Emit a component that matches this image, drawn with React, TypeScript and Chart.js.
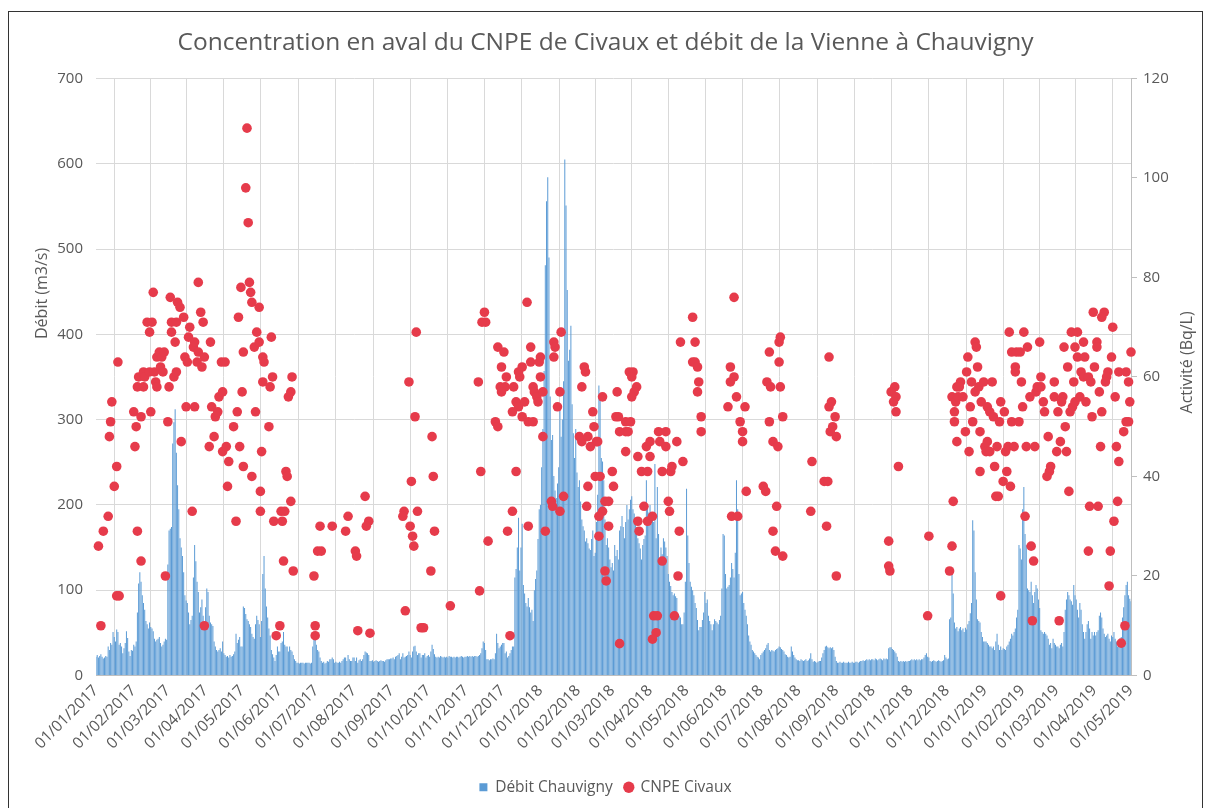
import React, { useEffect, useRef } from "react";
import { Chart, registerables } from "chart.js";

Chart.register(...registerables);

// ---- Débit de la Vienne à Chauvigny (m3/s), valeurs journalières par mois ----
const debit2017_01 = [22, 24, 21, 23, 25, 22, 20, 21, 23, 22, 34, 30, 38, 36, 51, 45, 40, 54, 51, 36, 38, 34, 26, 32, 38, 52, 44, 28, 23, 30, 29];
const debit2017_02 = [36, 34, 40, 74, 108, 121, 110, 94, 85, 77, 64, 60, 55, 62, 57, 55, 52, 43, 40, 42, 43, 45, 38, 34, 36, 40, 43, 42];
const debit2017_03 = [130, 170, 172, 174, 272, 297, 312, 261, 223, 195, 161, 150, 140, 121, 94, 88, 85, 74, 60, 65, 70, 115, 153, 134, 110, 98, 74, 80, 89, 70, 60];
const debit2017_04 = [80, 102, 98, 70, 62, 60, 58, 40, 34, 30, 28, 30, 32, 28, 40, 26, 24, 22, 23, 21, 24, 22, 23, 25, 28, 49, 38, 42, 45, 34];
const debit2017_05 = [34, 81, 79, 72, 66, 64, 60, 57, 49, 45, 43, 60, 70, 65, 60, 45, 64, 119, 140, 102, 81, 68, 55, 47, 30, 25, 21, 17, 24, 34, 28];
const debit2017_06 = [28, 38, 40, 51, 36, 34, 34, 28, 34, 30, 28, 24, 19, 17, 15, 15, 14, 15, 15, 15, 14, 15, 15, 15, 15, 14, 15, 34, 47, 42];
const debit2017_07 = [36, 30, 28, 21, 17, 15, 16, 14, 15, 17, 16, 19, 19, 21, 19, 15, 16, 15, 15, 16, 15, 17, 19, 21, 21, 17, 24, 19, 17, 17, 21];
const debit2017_08 = [21, 17, 21, 15, 18, 19, 17, 19, 24, 28, 27, 26, 24, 17, 17, 18, 16, 17, 18, 17, 16, 17, 18, 17, 17, 16, 18, 19, 19, 19, 20];
const debit2017_09 = [20, 21, 19, 22, 23, 24, 26, 19, 22, 26, 21, 22, 23, 24, 28, 24, 21, 28, 34, 35, 28, 24, 26, 26, 21, 24, 24, 26, 21, 23];
const debit2017_10 = [24, 22, 28, 36, 31, 25, 22, 21, 22, 21, 23, 22, 21, 22, 21, 22, 21, 23, 22, 22, 21, 22, 21, 22, 22, 21, 22, 23, 22, 21, 22];
const debit2017_11 = [22, 23, 22, 23, 22, 23, 22, 23, 23, 22, 23, 24, 26, 32, 40, 38, 30, 19, 19, 18, 19, 19, 20, 19, 26, 49, 38, 32, 34, 36];
const debit2017_12 = [38, 38, 26, 28, 21, 23, 26, 30, 34, 34, 115, 125, 150, 185, 123, 150, 178, 106, 96, 85, 81, 91, 80, 74, 77, 64, 100, 113, 123, 160, 195];
const debit2018_01 = [200, 244, 289, 357, 481, 556, 584, 490, 327, 276, 282, 234, 217, 208, 225, 244, 310, 280, 300, 345, 605, 551, 452, 369, 382, 410, 318, 284, 255, 289, 238];
const debit2018_02 = [221, 229, 204, 183, 175, 170, 157, 161, 155, 149, 147, 160, 170, 140, 144, 180, 212, 340, 331, 255, 251, 229, 183, 153, 161, 150, 136, 127];
const debit2018_03 = [132, 123, 153, 140, 147, 136, 170, 175, 187, 174, 161, 180, 200, 183, 195, 206, 210, 195, 190, 183, 174, 161, 155, 149, 136, 153, 160, 164, 229, 200, 191];
const debit2018_04 = [200, 178, 187, 180, 248, 161, 221, 166, 134, 150, 142, 161, 157, 150, 140, 119, 110, 105, 98, 94, 96, 93, 91, 72, 70, 68, 60, 60, 74, 110];
const debit2018_05 = [219, 164, 132, 110, 104, 100, 94, 85, 79, 65, 53, 57, 57, 65, 74, 98, 85, 89, 70, 64, 60, 53, 60, 66, 64, 62, 60, 65, 70, 102, 166];
const debit2018_06 = [164, 119, 102, 104, 106, 115, 132, 125, 115, 144, 229, 195, 119, 94, 96, 98, 85, 77, 70, 60, 47, 40, 36, 30, 28, 26, 24, 22, 21, 19];
const debit2018_07 = [24, 26, 28, 30, 32, 36, 38, 30, 28, 30, 29, 28, 30, 31, 32, 34, 33, 31, 30, 28, 25, 24, 22, 21, 22, 34, 28, 24, 21, 19, 18];
const debit2018_08 = [18, 17, 19, 18, 17, 18, 19, 17, 18, 20, 26, 19, 16, 17, 16, 15, 16, 17, 17, 21, 26, 30, 34, 35, 33, 32, 33, 32, 33, 30, 22];
const debit2018_09 = [17, 15, 15, 16, 15, 15, 16, 15, 15, 15, 16, 15, 15, 16, 15, 15, 16, 16, 15, 16, 17, 17, 18, 17, 18, 19, 18, 19, 18, 19];
const debit2018_10 = [19, 18, 20, 19, 18, 19, 20, 19, 18, 20, 19, 20, 19, 32, 33, 33, 31, 30, 28, 26, 22, 17, 16, 17, 16, 17, 16, 17, 16, 17, 17];
const debit2018_11 = [18, 19, 18, 19, 18, 19, 18, 19, 18, 19, 19, 21, 24, 26, 22, 21, 17, 16, 17, 18, 17, 16, 17, 18, 17, 16, 17, 18, 24, 21];
const debit2018_12 = [19, 20, 66, 68, 120, 96, 62, 55, 57, 52, 55, 57, 53, 55, 51, 56, 54, 60, 64, 73, 85, 182, 170, 121, 89, 66, 64, 62, 51, 45, 40];
const debit2019_01 = [40, 40, 38, 36, 34, 34, 32, 34, 30, 40, 49, 36, 30, 34, 30, 32, 31, 30, 34, 36, 40, 43, 49, 47, 51, 55, 68, 77, 153, 149, 136];
const debit2019_02 = [195, 221, 166, 153, 102, 100, 98, 110, 94, 85, 98, 106, 102, 89, 79, 53, 51, 49, 51, 49, 47, 43, 36, 38, 32, 43, 38, 36];
const debit2019_03 = [34, 34, 32, 36, 38, 34, 51, 77, 89, 98, 94, 89, 87, 83, 106, 94, 89, 77, 68, 85, 77, 60, 51, 43, 51, 60, 64, 55, 43, 51, 47];
const debit2019_04 = [51, 47, 51, 53, 70, 74, 68, 55, 49, 45, 47, 49, 43, 40, 47, 45, 51, 43, 40, 34, 38, 43, 45, 68, 80, 94, 106, 110, 94, 90];
const debit2019_05 = [87];

// ---- Étiquettes de l'axe des dates (premiers de mois) ----
const monthTickLabels = [
  "01/01/2017", "01/02/2017", "01/03/2017", "01/04/2017", "01/05/2017", "01/06/2017",
  "01/07/2017", "01/08/2017", "01/09/2017", "01/10/2017", "01/11/2017", "01/12/2017",
  "01/01/2018", "01/02/2018", "01/03/2018", "01/04/2018", "01/05/2018", "01/06/2018",
  "01/07/2018", "01/08/2018", "01/09/2018", "01/10/2018", "01/11/2018", "01/12/2018",
  "01/01/2019", "01/02/2019", "01/03/2019", "01/04/2019", "01/05/2019",
];

// ---- CNPE Civaux, activité (Bq/L) : [jour depuis le 01/01/2017, valeur] ----
const cnpe2017a: [number, number][] = [
  [2, 26], [4, 10], [6, 29], [10, 32], [11, 48], [12, 51], [13, 55], [15, 38], [17, 42], [17, 16], [19, 16], [18, 63],
  [31, 53], [32, 46], [33, 50], [34, 58], [34, 29], [35, 60], [37, 52], [37, 23], [39, 61], [39, 58], [40, 60], [42, 71],
  [44, 69], [44, 61], [45, 53], [46, 71], [47, 77], [48, 61], [49, 59], [50, 64], [50, 58], [52, 65], [53, 62], [54, 64],
  [55, 61], [56, 65], [57, 20], [59, 51], [60, 58], [61, 76], [62, 71], [62, 69], [64, 60], [65, 67], [66, 71], [66, 61],
  [67, 75], [69, 74], [70, 47], [72, 72], [73, 64], [74, 54], [75, 63], [76, 68], [77, 70], [79, 33], [80, 66], [81, 67],
  [81, 54], [83, 63], [84, 79], [84, 65], [86, 73], [87, 62], [88, 71], [89, 64], [89, 10], [93, 46], [94, 67], [95, 54],
  [97, 48], [98, 52], [100, 53], [101, 56], [103, 63], [104, 57], [104, 45], [106, 63], [107, 46], [108, 38], [109, 43],
  [113, 50], [115, 31], [116, 53], [117, 72], [118, 46], [119, 78], [120, 57], [121, 65], [121, 42], [123, 98], [124, 110],
  [125, 91], [126, 79], [127, 77], [128, 75], [128, 40], [130, 66], [131, 53], [132, 69], [134, 74], [134, 67], [135, 37],
  [135, 33], [136, 45], [137, 64], [137, 59], [138, 63],
];
const cnpe2017b: [number, number][] = [
  [144, 68], [143, 58], [145, 60], [161, 60], [160, 57], [158, 56], [142, 50], [156, 41], [157, 40], [160, 35], [152, 33],
  [155, 33], [146, 31], [153, 31], [154, 23], [162, 21], [151, 10], [148, 8], [184, 30], [194, 30], [182, 25], [185, 25],
  [179, 20], [180, 10], [180, 8], [207, 32], [205, 29], [221, 36], [224, 31], [222, 30], [213, 25], [214, 24], [215, 9],
  [225, 8.5], [263, 69], [257, 59], [262, 52], [259, 39], [253, 33], [252, 32], [264, 33], [258, 30], [260, 28], [261, 26],
  [254, 13], [267, 9.6], [269, 9.6], [276, 48], [277, 40], [278, 29], [275, 21],
];
const cnpe2017c: [number, number][] = [
  [291, 14], [314, 59], [316, 41], [315, 17], [322, 27], [319, 73], [320, 71], [317, 71], [330, 66], [335, 65], [333, 62],
  [337, 60], [332, 58], [336, 58], [343, 58], [333, 57], [328, 51], [330, 50], [345, 55], [347, 54], [342, 53], [352, 55],
  [345, 41], [342, 33], [338, 29], [340, 8], [354, 75], [357, 66], [350, 62], [348, 60], [347, 61], [357, 63], [364, 63],
  [365, 64], [365, 60], [359, 58], [360, 57], [362, 56], [363, 55], [350, 52], [355, 51], [359, 51], [367, 57], [367, 48],
  [355, 30], [369, 29], [374, 35], [375, 34], [381, 33], [384, 36], [376, 67], [377, 66], [376, 64], [382, 69], [381, 57],
  [379, 54], [401, 62], [402, 61], [399, 58], [416, 56], [408, 53], [409, 50], [397, 48], [399, 47], [404, 48], [406, 46],
  [411, 47], [412, 47], [410, 40], [414, 40], [404, 38], [403, 34], [418, 35], [421, 35], [416, 33], [413, 32], [413, 28],
  [421, 30], [418, 21], [419, 19],
];
const cnpe2018a: [number, number][] = [
  [424, 41], [425, 38], [428, 57], [427, 52], [429, 52], [430, 49], [435, 49], [437, 49], [435, 51], [439, 51], [438, 61],
  [441, 61], [440, 60], [444, 58], [442, 57], [440, 56], [435, 45], [445, 44], [448, 41], [453, 41], [452, 46], [455, 47],
  [455, 44], [462, 49], [468, 49], [463, 47], [468, 46], [477, 47], [482, 43], [465, 41], [472, 41], [473, 42], [450, 34],
  [445, 31], [446, 29], [453, 31], [457, 32], [470, 35], [471, 33], [479, 29], [465, 23], [478, 20], [458, 12], [461, 12],
  [475, 12], [460, 8.6], [457, 7.3], [430, 6.4], [480, 67], [492, 67], [490, 72], [490, 63], [492, 63], [494, 62], [495, 59],
  [494, 57], [497, 52], [497, 49], [524, 76], [521, 62], [524, 60], [521, 59], [526, 56], [519, 54], [533, 54], [529, 51],
  [531, 49], [531, 47], [534, 37], [522, 32], [527, 32], [553, 65], [551, 59], [554, 58], [561, 67], [562, 68], [561, 63],
  [562, 58], [553, 51], [564, 52], [556, 47], [560, 46], [548, 38], [550, 37], [559, 34], [556, 29], [558, 25], [564, 24],
];
const cnpe2018b: [number, number][] = [
  [602, 64], [604, 55], [602, 54], [607, 52], [605, 50], [603, 49], [608, 48], [588, 43], [598, 39], [601, 39], [587, 33],
  [600, 30], [608, 20], [656, 58], [653, 57], [657, 56], [655, 55], [657, 53], [659, 42], [651, 27], [651, 22], [652, 21],
  [684, 28], [683, 12],
];
const cnpe2018c: [number, number][] = [
  [703, 56], [706, 55], [705, 53], [705, 51], [707, 47], [704, 35], [703, 26], [701, 21], [707, 58], [722, 67], [723, 66],
  [716, 64], [724, 62], [715, 61], [710, 59], [709, 58], [719, 59], [708, 56], [712, 56], [718, 54], [722, 57], [725, 58],
  [720, 51], [714, 49], [726, 49], [717, 45], [726, 41], [743, 16], [729, 59], [736, 59], [727, 55], [732, 54], [734, 53],
  [737, 52], [742, 51], [743, 55], [746, 53], [732, 47], [730, 46], [731, 45], [734, 45], [740, 46], [747, 45], [749, 46],
  [738, 42], [748, 41], [745, 39], [751, 38], [739, 36], [741, 36], [752, 51], [758, 51], [754, 46], [750, 69], [752, 65],
  [756, 65], [759, 65], [755, 62], [755, 61], [760, 59], [761, 54], [763, 32], [768, 26], [770, 23], [769, 11],
];
const cnpe2019: [number, number][] = [
  [762, 69], [765, 66], [775, 67], [764, 46], [771, 46], [767, 56], [772, 57], [776, 58], [776, 60], [773, 58], [778, 55],
  [779, 53], [782, 48], [787, 59], [787, 56], [790, 53], [784, 42], [783, 41], [781, 40], [792, 47], [789, 45], [796, 50],
  [795, 66], [798, 62], [794, 56], [793, 55], [797, 45], [799, 37], [791, 11], [801, 69], [806, 69], [804, 66], [811, 67],
  [806, 64], [812, 64], [803, 59], [809, 61], [811, 60], [815, 60], [817, 59], [800, 53], [802, 54], [804, 55], [808, 56],
  [813, 55], [818, 52], [816, 34], [815, 25], [819, 73], [828, 73], [826, 72], [822, 67], [822, 66], [820, 62], [835, 70],
  [834, 64], [831, 61], [830, 60], [829, 59], [824, 57], [826, 53], [837, 56], [840, 61], [846, 61], [848, 59], [850, 65],
  [849, 55], [846, 51], [848, 51], [844, 49], [825, 46], [838, 46], [840, 43], [839, 35], [836, 31], [833, 25], [832, 18],
  [845, 10], [842, 6.5], [823, 34],
];

const debitMonths = [
  debit2017_01, debit2017_02, debit2017_03, debit2017_04, debit2017_05, debit2017_06,
  debit2017_07, debit2017_08, debit2017_09, debit2017_10, debit2017_11, debit2017_12,
  debit2018_01, debit2018_02, debit2018_03, debit2018_04, debit2018_05, debit2018_06,
  debit2018_07, debit2018_08, debit2018_09, debit2018_10, debit2018_11, debit2018_12,
  debit2019_01, debit2019_02, debit2019_03, debit2019_04, debit2019_05,
];
const cnpeGroups = [cnpe2017a, cnpe2017b, cnpe2017c, cnpe2018a, cnpe2018b, cnpe2018c, cnpe2019];

const FONT = '"Open Sans", sans-serif';
const TEXT = "#595959";
const GRID = "#d9d9d9";
const AXIS = "#bfbfbf";
const BLUE = "#5B9BD5";
const RED = "#E63B4B";

function dayOf(label: string): number {
  const [d, m, y] = label.split("/").map(Number);
  return Math.round((Date.UTC(y, m - 1, d) - Date.UTC(2017, 0, 1)) / 86400000);
}

const tickDays = monthTickLabels.map(dayOf);
const labelByDay = new Map<number, string>();
monthTickLabels.forEach((l, i) => labelByDay.set(tickDays[i], l));

const axisTitlesPlugin = {
  id: "axisTitles",
  afterDraw(chart: any) {
    const { ctx, chartArea } = chart;
    ctx.save();
    ctx.fillStyle = TEXT;
    ctx.font = `16px ${FONT}`;
    ctx.textAlign = "center";
    ctx.textBaseline = "middle";
    ctx.translate(chartArea.left - 54, chartArea.top + 215);
    ctx.rotate(-Math.PI / 2);
    ctx.fillText("Débit (m3/s)", 0, 0);
    ctx.restore();
    ctx.save();
    ctx.fillStyle = TEXT;
    ctx.font = `16px ${FONT}`;
    ctx.textAlign = "center";
    ctx.textBaseline = "middle";
    ctx.translate(chartArea.right + 56, chartArea.top + 284);
    ctx.rotate(-Math.PI / 2);
    ctx.fillText("Activité (Bq/L)", 0, 0);
    ctx.restore();
  },
};

export default function App() {
  const ref = useRef<HTMLCanvasElement | null>(null);
  useEffect(() => {
    if (!ref.current) return;
    const barData: { x: number; y: number }[] = [];
    debitMonths.forEach((arr, mi) => {
      const start = tickDays[mi];
      arr.forEach((v, i) => barData.push({ x: start + i, y: v }));
    });
    const pointData: { x: number; y: number }[] = [];
    cnpeGroups.forEach((g) => g.forEach(([d, v]) => pointData.push({ x: d, y: v })));

    const chart = new Chart(ref.current, {
      type: "bar",
      data: {
        datasets: [
          {
            type: "scatter",
            label: "CNPE Civaux",
            data: pointData,
            yAxisID: "y1",
            backgroundColor: RED,
            borderColor: RED,
            borderWidth: 0,
            pointRadius: 4.8,
            pointStyle: "circle",
            clip: false,
            order: 0,
          } as any,
          {
            type: "bar",
            label: "Débit Chauvigny",
            data: barData,
            yAxisID: "y",
            backgroundColor: BLUE,
            borderWidth: 0,
            barPercentage: 1,
            categoryPercentage: 0.82,
            pointStyle: "rect",
            order: 1,
          } as any,
        ],
      },
      options: {
        responsive: false,
        animation: false,
        devicePixelRatio: 1,
        layout: { padding: { top: 6, bottom: 5, left: 0, right: 0 } },
        plugins: {
          title: {
            display: true,
            text: "Concentration en aval du CNPE de Civaux et débit de la Vienne à Chauvigny",
            color: TEXT,
            font: { family: FONT, size: 24.5, weight: "normal" },
            padding: { top: 10, bottom: 21 },
          },
          legend: {
            position: "bottom",
            reverse: true,
            labels: {
              usePointStyle: true,
              boxWidth: 8,
              boxHeight: 8,
              color: TEXT,
              font: { family: FONT, size: 15.5 },
              padding: 12,
            },
          },
          tooltip: { enabled: false },
        },
        scales: {
          x: {
            type: "linear",
            min: 0,
            max: 850,
            offset: false,
            afterBuildTicks: (scale: any) => {
              scale.ticks = tickDays.map((v) => ({ value: v }));
            },
            afterFit: (scale: any) => {
              scale.height = 92;
            },
            ticks: {
              autoSkip: false,
              minRotation: 45,
              maxRotation: 45,
              padding: 6,
              color: TEXT,
              font: { family: FONT, size: 15.5 },
              callback: (v: any) => labelByDay.get(Number(v)) ?? "",
            },
            grid: { color: GRID, lineWidth: 1, drawTicks: false },
            border: { display: true, color: AXIS },
          },
          y: {
            type: "linear",
            position: "left",
            min: 0,
            max: 700,
            afterFit: (scale: any) => {
              scale.width = 87;
            },
            ticks: { stepSize: 100, padding: 13, color: TEXT, font: { family: FONT, size: 15 } },
            grid: { color: GRID, lineWidth: 1, drawTicks: false },
            border: { display: false },
          },
          y1: {
            type: "linear",
            position: "right",
            min: 0,
            max: 120,
            afterFit: (scale: any) => {
              scale.width = 71;
            },
            ticks: { stepSize: 20, padding: 6, color: TEXT, font: { family: FONT, size: 15 } },
            grid: { drawOnChartArea: false, drawTicks: true, tickLength: 6, color: AXIS },
            border: { display: true, color: AXIS },
          },
        },
      } as any,
      plugins: [axisTitlesPlugin],
    });
    return () => chart.destroy();
  }, []);

  return (
    <div
      style={{
        position: "relative",
        top: 3,
        width: 1195,
        height: 800,
        border: "1px solid #333",
        boxSizing: "border-box",
        background: "#fff",
      }}
    >
      <canvas ref={ref} width={1193} height={798} style={{ display: "block", width: 1193, height: 798 }} />
    </div>
  );
}
